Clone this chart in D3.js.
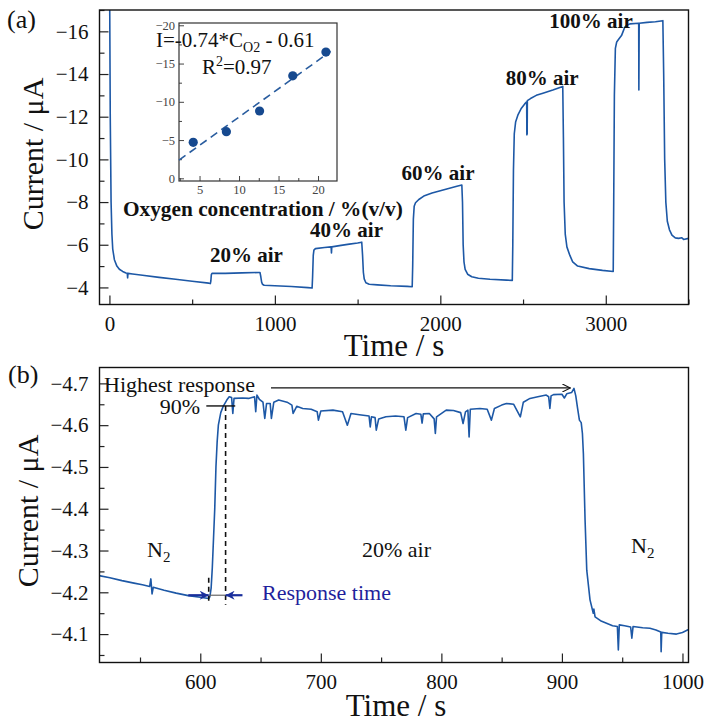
<!DOCTYPE html>
<html><head><meta charset="utf-8">
<script src="https://cdn.jsdelivr.net/npm/d3@7"></script>
<style>
body{margin:0;background:#fff;}
text{font-family:"Liberation Serif","Times New Roman",serif;}
</style></head>
<body>
<svg id="c" width="713" height="726"></svg>
<script>
// ---------- DATA ----------
// Panel (a): time (s), current (µA)
const panelA = [
[0,-20],[5,-12],[10,-8],[15,-6.5],[20,-5.8],[30,-5.3],[45,-5.0],[60,-4.85],[80,-4.75],[100,-4.68],[108,-4.66],[110,-4.45],[112,-4.66],
[140,-4.63],[200,-4.57],[300,-4.47],[400,-4.38],[500,-4.29],[600,-4.2],[610,-4.18],
[613,-4.3],[616,-4.6],[620,-4.66],[700,-4.66],[800,-4.68],[905,-4.7],[910,-4.7],
[915,-4.5],[920,-4.25],[925,-4.15],[935,-4.1],[1000,-4.08],[1100,-4.04],[1200,-3.99],[1225,-3.97],
[1228,-4.5],[1232,-5.5],[1236,-5.75],[1245,-5.82],[1300,-5.87],[1340,-5.9],[1342,-5.62],[1344,-5.9],[1400,-5.97],[1450,-6.03],[1500,-6.08],[1525,-6.12],
[1530,-5.5],[1535,-4.7],[1540,-4.4],[1550,-4.22],[1570,-4.15],[1620,-4.12],[1700,-4.08],[1800,-4.05],[1830,-4.03],
[1833,-5],[1837,-7.2],[1842,-7.8],[1850,-7.97],[1870,-8.12],[1900,-8.28],[1950,-8.42],[2000,-8.53],[2050,-8.64],[2100,-8.74],[2130,-8.8],
[2134,-8],[2138,-6],[2143,-5.2],[2150,-4.85],[2165,-4.62],[2190,-4.5],[2230,-4.43],[2300,-4.38],[2400,-4.34],[2435,-4.33],
[2438,-6],[2442,-9.5],[2447,-11.2],[2455,-11.75],[2470,-12.1],[2490,-12.4],[2510,-12.6],[2522,-12.7],[2523,-11.15],[2525,-11.2],[2526,-12.75],
[2545,-12.85],[2580,-13.0],[2620,-13.1],[2680,-13.25],[2740,-13.42],
[2744,-11],[2748,-8],[2755,-6.5],[2765,-5.9],[2783,-5.5],[2800,-5.2],[2830,-5.0],[2900,-4.88],[2980,-4.8],[3045,-4.75],
[3048,-8],[3052,-13],[3058,-15.2],[3066,-15.5],[3080,-15.65],[3095,-15.8],[3105,-16],[3115,-16.2],[3130,-16.3],[3146,-16.35],
[3199,-16.38],[3200,-13.25],[3202,-16.38],[3250,-16.42],[3300,-16.45],[3345,-16.5],
[3350,-14],[3356,-10],[3363,-8],[3372,-7.1],[3385,-6.7],[3400,-6.45],[3420,-6.32],[3440,-6.3],[3460,-6.33],[3470,-6.25],[3500,-6.3]
];
// Panel (b): time (s), current (µA)
const panelB = [
[516,-4.24],[525,-4.235],[535,-4.228],[545,-4.222],[552,-4.218],[558,-4.214],[559,-4.232],[560,-4.196],[561,-4.212],
[570,-4.205],[580,-4.198],[590,-4.192],[600,-4.188],[607,-4.185],[608,-4.19],
[609,-4.21],[610,-4.26],[611,-4.33],[612,-4.4],[613,-4.5],[614,-4.56],[615,-4.6],[617,-4.63],[619,-4.645],[622,-4.66],[624,-4.668],
[626,-4.666],[627,-4.628],[628,-4.664],[635,-4.665],[640,-4.664],[645,-4.668],[646,-4.632],[647,-4.672],[649,-4.662],
[652,-4.655],[653.5,-4.616],[655,-4.652],[658,-4.652],[659,-4.616],[661,-4.655],[665,-4.66],[672,-4.655],[676,-4.648],[677,-4.628],[680,-4.645],
[685,-4.64],[692,-4.638],[697,-4.632],[698,-4.612],[700,-4.634],[710,-4.636],[718,-4.632],[722,-4.6],[725,-4.628],
[732,-4.625],[740,-4.622],[741,-4.596],[742,-4.62],[745,-4.618],[746,-4.588],[748,-4.615],[754,-4.62],[762,-4.622],[769,-4.62],[770.5,-4.588],[772,-4.618],
[779,-4.628],[783,-4.626],[784,-4.605],[785,-4.627],[790,-4.628],[794,-4.615],[795,-4.58],[796,-4.62],[804,-4.636],[810,-4.635],[816,-4.63],
[818,-4.604],[820,-4.632],[822,-4.636],[823,-4.572],[824,-4.638],[832,-4.64],[838,-4.638],[841.5,-4.612],[844,-4.64],[850,-4.648],[854,-4.652],
[860,-4.65],[865.5,-4.62],[868,-4.655],[873.5,-4.664],[880,-4.668],[887,-4.672],[889,-4.668],[890,-4.64],[891,-4.67],[893,-4.673],
[900,-4.674],[902,-4.665],[904,-4.675],[908,-4.678],[910,-4.688],[911.5,-4.67],[913,-4.64],[914.5,-4.612],[916,-4.606],[917,-4.58],
[917.8,-4.532],[919.2,-4.373],[920.6,-4.253],[923.3,-4.182],[926,-4.15],[926.5,-4.16],[927.5,-4.141],[932,-4.132],[937,-4.126],[942,-4.12],
[946,-4.118],[946.8,-4.062],[947.6,-4.122],[952,-4.12],[957,-4.117],[958,-4.09],[959,-4.118],[967,-4.115],[973,-4.114],[978,-4.11],
[982,-4.105],[982.3,-4.058],[982.8,-4.104],[988,-4.102],[995,-4.1],[1000,-4.104],[1005,-4.111]
];
// Inset: O2 concentration (% v/v), current (µA)
const insetConc = [4.2, 8.4, 12.6, 16.8, 21.0];
const insetCurrent = [-4.7, -6.1, -8.8, -13.4, -16.5];
const fitSlope = -0.74, fitIntercept = -0.61;
// tick values
const aXTicks = [0, 1000, 2000, 3000];
const aYTicks = [-4, -6, -8, -10, -12, -14, -16];
const bXTicks = [600, 700, 800, 900, 1000];
const bYTicks = [-4.1, -4.2, -4.3, -4.4, -4.5, -4.6, -4.7];
const insXTicks = [5, 10, 15, 20];
const insYTicks = [0, -5, -10, -15, -20];
const airLabels = [
  {t: "20% air", x: 608, y: -5.19},
  {t: "40% air", x: 1213, y: -6.36},
  {t: "60% air", x: 1766, y: -9.03},
  {t: "80% air", x: 2395, y: -13.49},
  {t: "100% air", x: 2659, y: -16.14}
];

// ---------- DRAW ----------
const svg = d3.select("#c");
const blue = "#1d58a6";
const defs = svg.append("defs");
defs.append("marker").attr("id","arrK").attr("viewBox","0 0 10 10").attr("refX",10).attr("refY",5)
  .attr("markerWidth",10).attr("markerHeight",8).attr("markerUnits","userSpaceOnUse").attr("orient","auto")
  .append("path").attr("d","M0,0 L10,5 L0,10").attr("fill","none").attr("stroke","#111").attr("stroke-width",1.3);
defs.append("marker").attr("id","arrB").attr("viewBox","0 0 10 10").attr("refX",10).attr("refY",5)
  .attr("markerWidth",10).attr("markerHeight",9).attr("markerUnits","userSpaceOnUse").attr("orient","auto")
  .append("path").attr("d","M0,0 L10,5 L0,10 L3,5 Z").attr("fill","#1a2f9c");

function panel(opts){
  const {L,R,T,B,xd,yd,xt,yt,xMinor,yMinor,fmtY,data,id} = opts;
  const x = d3.scaleLinear().domain(xd).range([L,R]);
  const y = d3.scaleLinear().domain(yd).range([B,T]);
  defs.append("clipPath").attr("id",id).append("rect").attr("x",L).attr("y",T).attr("width",R-L).attr("height",B-T);
  const gx = svg.append("g").attr("transform",`translate(0,${B})`)
    .call(d3.axisBottom(x).tickValues(xt).tickSizeInner(-9).tickSizeOuter(0).tickPadding(12).tickFormat(d3.format("d")));
  const gxm = svg.append("g").attr("transform",`translate(0,${B})`)
    .call(d3.axisBottom(x).tickValues(xMinor).tickSizeInner(-5).tickSizeOuter(0).tickFormat(""));
  const gy = svg.append("g").attr("transform",`translate(${L},0)`)
    .call(d3.axisLeft(y).tickValues(yt).tickSizeInner(-9).tickSizeOuter(0).tickPadding(11).tickFormat(fmtY));
  const gym = svg.append("g").attr("transform",`translate(${L},0)`)
    .call(d3.axisLeft(y).tickValues(yMinor).tickSizeInner(-5).tickSizeOuter(0).tickFormat(""));
  [gx,gxm,gy,gym].forEach(g=>{ g.select(".domain").remove(); g.selectAll("line").attr("stroke","#222").attr("stroke-width",1.2);
    g.selectAll("text").style("font-family","'Liberation Serif', serif").attr("font-size",21).attr("fill","#111"); });
  svg.append("path").datum(data).attr("clip-path",`url(#${id})`)
    .attr("d", d3.line().x(d=>x(d[0])).y(d=>y(d[1])))
    .attr("fill","none").attr("stroke",blue).attr("stroke-width",1.6).attr("stroke-linejoin","round");
  svg.append("rect").attr("x",L).attr("y",T).attr("width",R-L).attr("height",B-T)
    .attr("fill","none").attr("stroke","#111").attr("stroke-width",1.4);
  return {x,y};
}

// Panel (a)
const A = panel({L:99.5,R:688.5,T:10,B:304.5,xd:[-60,3500],yd:[-3.2,-17],
  xt:aXTicks, yt:aYTicks, xMinor:[500,1500,2500,3500], yMinor:[-5,-7,-9,-11,-13,-15,-17],
  fmtY:d3.format("d"), data:panelA, id:"clipA"});
airLabels.forEach(a=>{
  svg.append("text").attr("x",A.x(a.x)).attr("y",A.y(a.y)).attr("font-size",21).attr("font-weight","bold").attr("fill","#111").text(a.t);
});
svg.append("text").attr("x",7).attr("y",28).attr("font-size",26).attr("fill","#111").text("(a)");
svg.append("text").attr("transform","translate(43,154) rotate(-90)").attr("text-anchor","middle").attr("font-size",30).attr("fill","#111").text("Current / μA");
svg.append("text").attr("x",394).attr("y",356).attr("text-anchor","middle").attr("font-size",31).attr("fill","#111").text("Time / s");

// Inset
const iL=179, iR=337, iT=23, iB=181;
const ix = d3.scaleLinear().domain([2.4,22.4]).range([iL,iR]);
const iy = d3.scaleLinear().domain([0.35,-20.3]).range([iB,iT]);
const gix = svg.append("g").attr("transform",`translate(0,${iB})`)
  .call(d3.axisBottom(ix).tickValues(insXTicks).tickSizeInner(-5).tickSizeOuter(0).tickPadding(4));
const gixm = svg.append("g").attr("transform",`translate(0,${iB})`)
  .call(d3.axisBottom(ix).tickValues([2.5,7.5,12.5,17.5]).tickSizeInner(-3).tickSizeOuter(0).tickFormat(""));
const giy = svg.append("g").attr("transform",`translate(${iL},0)`)
  .call(d3.axisLeft(iy).tickValues(insYTicks).tickSizeInner(-5).tickSizeOuter(0).tickPadding(4).tickFormat(d3.format("d")));
const giym = svg.append("g").attr("transform",`translate(${iL},0)`)
  .call(d3.axisLeft(iy).tickValues([-2.5,-7.5,-12.5,-17.5]).tickSizeInner(-3).tickSizeOuter(0).tickFormat(""));
[gix,gixm,giy,giym].forEach(g=>{ g.select(".domain").remove(); g.selectAll("line").attr("stroke","#444");
  g.selectAll("text").style("font-family","'Liberation Serif', serif").attr("font-size",12.5).attr("fill","#444"); });
svg.append("rect").attr("x",iL).attr("y",iT).attr("width",iR-iL).attr("height",iB-iT).attr("fill","none").attr("stroke","#333").attr("stroke-width",1.2);
const fitX = ix.domain();
svg.append("line").attr("x1",ix(fitX[0])).attr("y1",iy(fitSlope*fitX[0]+fitIntercept))
  .attr("x2",ix(21.6)).attr("y2",iy(fitSlope*21.6+fitIntercept))
  .attr("stroke","#2a5d9f").attr("stroke-width",1.6).attr("stroke-dasharray","8,5");
svg.selectAll("circle.ins").data(insetConc).join("circle").attr("class","ins")
  .attr("cx",(d)=>ix(d)).attr("cy",(d,i)=>iy(insetCurrent[i])).attr("r",4.6).attr("fill","#16498f");
const eq = svg.append("text").attr("x",156).attr("y",47).attr("font-size",21).attr("fill","#111");
eq.append("tspan").text("I=-0.74*C");
eq.append("tspan").attr("font-size",14).attr("dy",5).text("O2");
eq.append("tspan").attr("dy",-5).text(" - 0.61");
const r2 = svg.append("text").attr("x",202).attr("y",74).attr("font-size",21).attr("fill","#111");
r2.append("tspan").text("R");
r2.append("tspan").attr("font-size",14).attr("dy",-8).text("2");
r2.append("tspan").attr("dy",8).text("=0.97");
svg.append("text").attr("x",123).attr("y",216).attr("font-size",21.3).attr("font-weight","bold").attr("fill","#111").text("Oxygen concentration / %(v/v)");

// Panel (b)
const Bp = panel({L:99.5,R:688.5,T:367.5,B:662.5,xd:[516.4,1005],yd:[-4.032,-4.738],
  xt:bXTicks, yt:bYTicks, xMinor:[550,650,750,850,950], yMinor:[-4.05,-4.15,-4.25,-4.35,-4.45,-4.55,-4.65],
  fmtY:d3.format(".1f"), data:panelB, id:"clipB"});
svg.append("text").attr("x",8).attr("y",383).attr("font-size",26).attr("fill","#111").text("(b)");
svg.append("text").attr("transform","translate(38,511) rotate(-90)").attr("text-anchor","middle").attr("font-size",30).attr("fill","#111").text("Current / μA");
svg.append("text").attr("x",396).attr("y",716).attr("text-anchor","middle").attr("font-size",31).attr("fill","#111").text("Time / s");

// annotations (b)
svg.append("text").attr("x",104).attr("y",392).attr("font-size",22).attr("fill","#111").text("Highest response");
svg.append("line").attr("x1",271).attr("y1",Bp.y(-4.689)).attr("x2",Bp.x(907)).attr("y2",Bp.y(-4.689))
  .attr("stroke","#111").attr("stroke-width",1.3).attr("marker-end","url(#arrK)");
svg.append("text").attr("x",200).attr("y",414).attr("text-anchor","end").attr("font-size",22).attr("fill","#111").text("90%");
svg.append("line").attr("x1",Bp.x(605)).attr("x2",Bp.x(629)).attr("y1",Bp.y(-4.646)).attr("y2",Bp.y(-4.646))
  .attr("stroke","#111").attr("stroke-width",1.4);
svg.append("line").attr("x1",Bp.x(621)).attr("x2",Bp.x(621)).attr("y1",Bp.y(-4.646)).attr("y2",Bp.y(-4.17))
  .attr("stroke","#111").attr("stroke-width",1.6).attr("stroke-dasharray","5,4");
svg.append("line").attr("x1",Bp.x(607)).attr("x2",Bp.x(607)).attr("y1",Bp.y(-4.235)).attr("y2",Bp.y(-4.17))
  .attr("stroke","#111").attr("stroke-width",1.6).attr("stroke-dasharray","5,4");
svg.append("line").attr("x1",Bp.x(607)).attr("x2",Bp.x(621)).attr("y1",Bp.y(-4.193)).attr("y2",Bp.y(-4.193))
  .attr("stroke","#666").attr("stroke-width",1.2);
svg.append("line").attr("x1",Bp.x(590)).attr("x2",Bp.x(607)).attr("y1",Bp.y(-4.193)).attr("y2",Bp.y(-4.193))
  .attr("stroke","#1a2f9c").attr("stroke-width",2.2).attr("marker-end","url(#arrB)");
svg.append("line").attr("x1",Bp.x(635)).attr("x2",Bp.x(621)).attr("y1",Bp.y(-4.193)).attr("y2",Bp.y(-4.193))
  .attr("stroke","#1a2f9c").attr("stroke-width",2.2).attr("marker-end","url(#arrB)");
svg.append("text").attr("x",262).attr("y",600).attr("font-size",22).attr("fill","#1f1f9c").text("Response time");
function n2(xp, yp){
  const t = svg.append("text").attr("x",xp).attr("y",yp).attr("font-size",22).attr("fill","#111");
  t.append("tspan").text("N");
  t.append("tspan").attr("font-size",15).attr("dy",5).text("2");
}
n2(147, 557);
n2(631, 553);
svg.append("text").attr("x",362).attr("y",557).attr("font-size",22).attr("fill","#111").text("20% air");
</script>
</body></html>
